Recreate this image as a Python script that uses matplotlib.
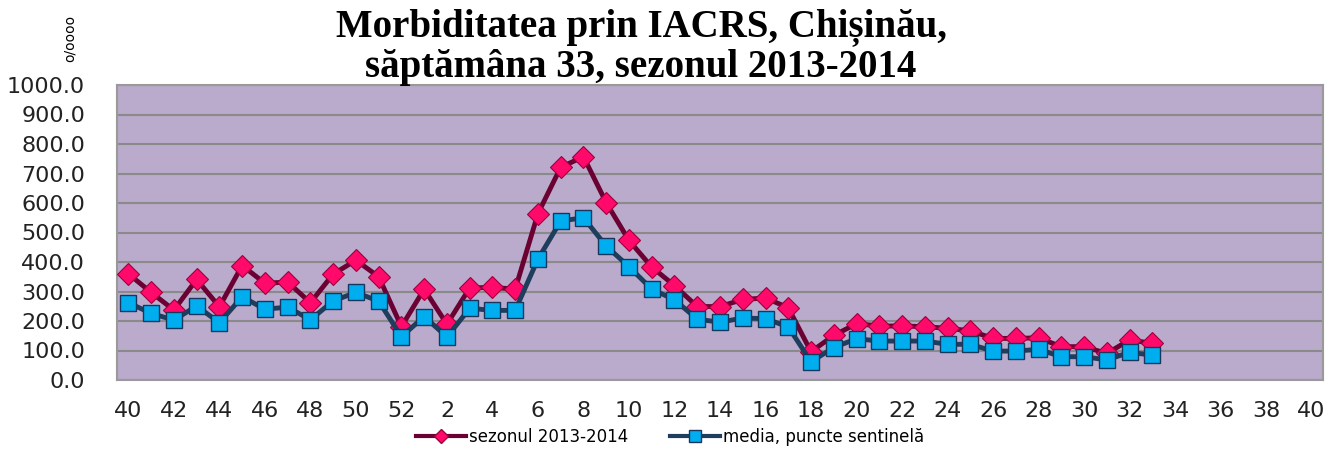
import numpy as np
import matplotlib
matplotlib.use("Agg")
import matplotlib.pyplot as plt
from matplotlib.lines import Line2D

# saptamanile: 40..52 apoi 1..40
saptamani = list(range(40, 53)) + list(range(1, 41))

sezonul = [360, 297, 237, 341, 248, 388, 328, 332, 262, 359, 406, 350, 181,
           308, 189, 312, 314, 308, 564, 721, 757, 601, 473, 383, 320, 249,
           249, 273, 278, 245, 96, 151, 191, 183, 183, 181, 175, 167, 141,
           141, 143, 113, 113, 90, 136, 124]
media = [262, 226, 203, 251, 194, 282, 240, 247, 204, 268, 297, 267, 147,
         215, 146, 243, 236, 236, 410, 539, 550, 454, 384, 308, 272, 206,
         196, 210, 208, 180, 62, 110, 140, 132, 132, 132, 121, 121, 98,
         98, 104, 79, 79, 68, 94, 84]

titlu = "Morbiditatea prin IACRS, Chișinău,\nsăptămâna 33, sezonul 2013-2014"

c_sez_line = "#6b0033"
c_sez_mark = "#ff0a6a"
c_med_line = "#1f3d5c"
c_med_mark = "#00aeef"

fig = plt.figure(figsize=(13.43, 4.55), dpi=100)
ax = fig.add_axes([117/1343, 1-380/455, 1206/1343, 295/455])
ax.set_facecolor("#baaacb")

x = np.arange(len(saptamani))
ax.plot(x[:len(sezonul)], sezonul, color=c_sez_line, lw=3.5, marker="D",
        ms=11, mfc=c_sez_mark, mec="#a0003c", mew=0.8, zorder=3)
ax.plot(x[:len(media)], media, color=c_med_line, lw=3.5, marker="s",
        ms=11, mfc=c_med_mark, mec="#17375e", mew=1.0, zorder=4)

ax.set_xlim(-0.5, len(saptamani) - 0.5)
ax.set_ylim(0, 1000)
ax.set_yticks(np.arange(0, 1001, 100))
ax.set_yticklabels([f"{v:.1f}" for v in np.arange(0, 1001, 100)])
ax.set_xticks(x[::2])
ax.set_xticklabels([str(s) for s in saptamani[::2]])
ax.tick_params(axis="y", length=0, pad=23, labelsize=16, colors="#222222")
ax.tick_params(axis="x", length=0, pad=15, labelsize=16, colors="#222222")
ax.grid(axis="y", color="#8a8a8a", lw=1.5)
ax.set_axisbelow(True)
for s in ax.spines.values():
    s.set_color("#999999")
    s.set_linewidth(1.5)

fig.text(641/1343, 1-47/455, titlu, ha="center", va="center",
         family="Liberation Serif", weight="bold", fontsize=28,
         linespacing=1.12)
fig.text(70/1343, 1-38/455, "o/oooo", rotation=90, ha="center",
         va="center", fontsize=10)

h1 = Line2D([], [], color=c_sez_line, lw=3, marker="D", ms=7,
            mfc=c_sez_mark, mec="#a0003c")
h2 = Line2D([], [], color=c_med_line, lw=3, marker="s", ms=8,
            mfc=c_med_mark, mec="#17375e")
fig.legend([h1, h2], ["sezonul 2013-2014", "media, puncte sentinelă"],
           loc="center", bbox_to_anchor=(670/1343, 1-437/455), ncol=2,
           frameon=False, fontsize=12, handlelength=3, columnspacing=2.5,
           handletextpad=0.2)

fig.savefig("out.png", dpi=100)
